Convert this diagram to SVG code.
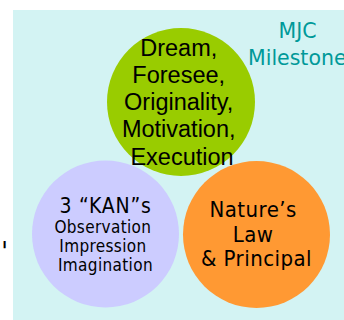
<svg xmlns="http://www.w3.org/2000/svg" width="344" height="320" viewBox="0 0 344 320">
  <style>
    .arial { font-family: "Liberation Sans", Arial, sans-serif; fill: #000; text-anchor: middle; }
    .tah { font-family: "DejaVu Sans Condensed", "DejaVu Sans", sans-serif; text-anchor: middle; }
    .title { font-family: "DejaVu Sans", sans-serif; fill: #009999; font-size: 20.5px; }
  </style>
  <!-- panel background -->
  <rect x="13" y="10" width="331" height="310" fill="#D3F3F3"/>
  <!-- stray mark at the left margin -->
  <text x="4.5" y="261" class="tah" font-size="27" fill="#000">'</text>

  <g id="dream">
    <circle cx="181" cy="102" r="74" fill="#99CC00"/>
    <text class="arial" font-size="23.5">
      <tspan x="182" y="56">Dream,</tspan>
      <tspan x="182" y="83">Foresee,</tspan>
      <tspan x="182" y="109.5">Originality,</tspan>
      <tspan x="182" y="137">Motivation,</tspan>
      <tspan x="182" y="164.5">Execution</tspan>
    </text>
  </g>

  <g id="kan">
    <circle cx="105.5" cy="234" r="73.5" fill="#CCCCFF"/>
    <text x="105.5" y="212.5" class="tah" font-size="21" letter-spacing="0.8" fill="#000">3 “KAN”s</text>
    <text class="tah" font-size="17" letter-spacing="0.35" fill="#000">
      <tspan x="105.5" y="233">Observation</tspan>
      <tspan x="105.5" y="252">Impression</tspan>
      <tspan x="105.5" y="271">Imagination</tspan>
    </text>
  </g>

  <g id="nature">
    <circle cx="256.5" cy="234.5" r="73.5" fill="#FF9933"/>
    <text class="tah" font-size="22" letter-spacing="0.45" fill="#000">
      <tspan x="256.5" y="216.5">Nature’s</tspan>
      <tspan x="256.5" y="241.5">Law</tspan>
      <tspan x="256.5" y="266">&amp; Principal</tspan>
    </text>
  </g>

  <g id="title">
    <text x="297.5" y="38" class="title" text-anchor="middle">MJC</text>
    <text x="248" y="65" class="title" text-anchor="start">Milestone</text>
  </g>

  <g id="connectors"></g>
</svg>
